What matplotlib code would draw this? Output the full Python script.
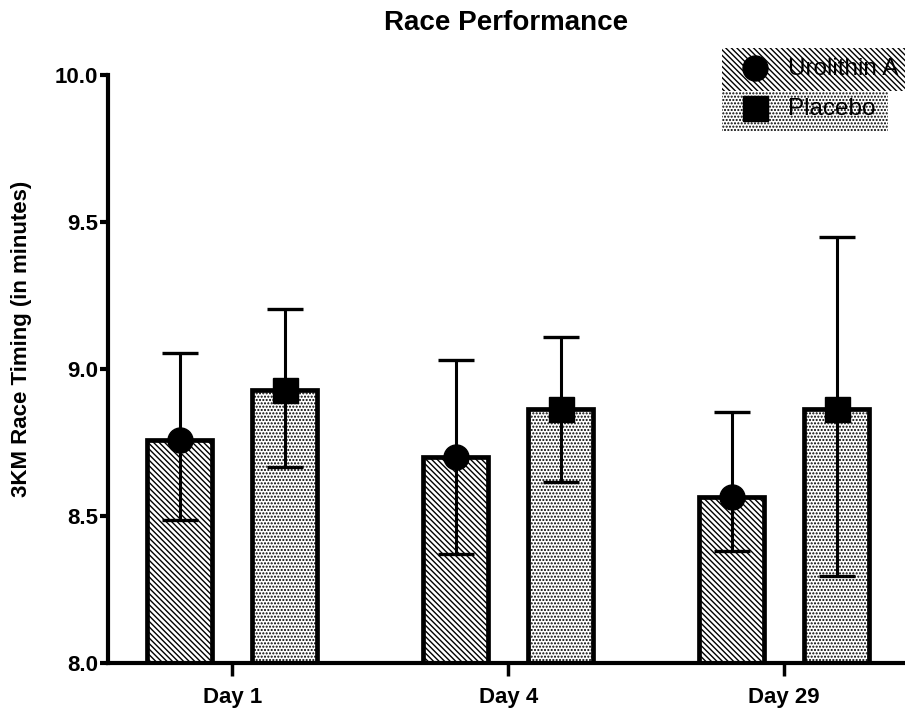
import numpy as np
import matplotlib

matplotlib.use("Agg")
import matplotlib.pyplot as plt  # noqa: E402
from matplotlib.patches import Rectangle  # noqa: E402
from matplotlib.lines import Line2D  # noqa: E402

# values
days = ["Day 1", "Day 4", "Day 29"]
uro_mean = [8.76, 8.70, 8.565]
uro_err_low = [0.275, 0.33, 0.185]
uro_err_high = [0.295, 0.33, 0.29]
pla_mean = [8.93, 8.865, 8.865]
pla_err_low = [0.265, 0.25, 0.57]
pla_err_high = [0.275, 0.245, 0.585]
yticks = [8.0, 8.5, 9.0, 9.5, 10.0]

plt.rcParams["font.family"] = ["Liberation Sans", "DejaVu Sans"]
plt.rcParams["hatch.linewidth"] = 1.0

HATCH_URO = "\\" * 6
HATCH_PLA = "." * 5

W, H = 905, 712
fig = plt.figure(figsize=(W / 100, H / 100), dpi=100)


def fx(px):
    return px / W


def fy(py):
    return 1 - py / H


# axes run off the right edge like in the cropped original
ax = fig.add_axes([fx(108), 49 / H, 797 / W, 588 / H])
x = np.arange(len(days))
bw = 0.235
off = 0.19

ax.bar(x - off, uro_mean, width=bw, color="white", edgecolor="black",
       linewidth=3.4, hatch=HATCH_URO, zorder=2)
ax.bar(x + off, pla_mean, width=bw, color="white", edgecolor="black",
       linewidth=3.4, hatch=HATCH_PLA, zorder=2)

ax.errorbar(x - off, uro_mean, yerr=[uro_err_low, uro_err_high], fmt="o",
            color="black", ms=18, elinewidth=2.2, capsize=13, capthick=2.4, zorder=3)
ax.errorbar(x + off, pla_mean, yerr=[pla_err_low, pla_err_high], fmt="s",
            color="black", ms=18, elinewidth=2.2, capsize=13, capthick=2.4, zorder=3)

ax.set_xlim(-0.45, -0.45 + 797 / 276)
ax.set_ylim(8.0, 10.0)
ax.set_yticks(yticks)
ax.set_yticklabels([f"{v:.1f}" for v in yticks], fontsize=16, fontweight="bold")
ax.set_xticks(x)
ax.set_xticklabels(days, fontsize=16, fontweight="bold")
ax.tick_params(axis="y", direction="out", length=6, width=3, pad=1)
ax.tick_params(axis="x", direction="out", length=9, width=2.5, pad=8)
for s in ["top", "right"]:
    ax.spines[s].set_visible(False)
for s in ["left", "bottom"]:
    ax.spines[s].set_linewidth(3)

ax.set_ylabel("3KM Race Timing (in minutes)", fontsize=16, fontweight="bold")
ax.yaxis.set_label_coords((32 - 108) / 797, 0.551)

fig.text(fx(506), fy(23), "Race Performance", ha="center", va="center",
         fontsize=20, fontweight="bold")

# legend in the GraphPad style: hatched rows, running to the right edge
fig.add_artist(Rectangle((fx(722), fy(91)), 0.25, 43 / H, transform=fig.transFigure,
                         facecolor="white", edgecolor="black", linewidth=0,
                         hatch=HATCH_URO))
fig.add_artist(Rectangle((fx(722), fy(131)), 166 / W, 40 / H, transform=fig.transFigure,
                         facecolor="white", edgecolor="black", linewidth=0,
                         hatch=HATCH_PLA))
fig.add_artist(Line2D([fx(755)], [fy(68)], marker="o", ms=18, color="black",
                      transform=fig.transFigure))
fig.add_artist(Line2D([fx(755)], [fy(108)], marker="s", ms=18, color="black",
                      transform=fig.transFigure))
fig.text(fx(788), fy(69), "Urolithin A", ha="left", va="center", fontsize=17.5)
fig.text(fx(788), fy(109), "Placebo", ha="left", va="center", fontsize=17.5)

fig.savefig("out.png", dpi=100)
